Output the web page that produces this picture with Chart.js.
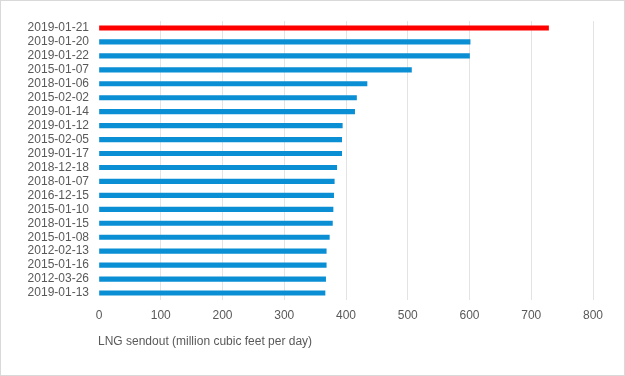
<!DOCTYPE html>
<html>
<head>
<meta charset="utf-8">
<script src="https://cdn.jsdelivr.net/npm/chart.js@4/dist/chart.umd.min.js"></script>
<style>
  html, body { margin: 0; padding: 0; background: #fff; }
  #wrap { width: 625px; height: 376px; box-sizing: border-box; border: 1px solid #d9d9d9; background: #fff; }
  canvas { display: block; }
</style>
</head>
<body>
<div id="wrap"><canvas id="c" width="623" height="374"></canvas></div>
<script>
const categories = ["2019-01-21","2019-01-20","2019-01-22","2015-01-07","2018-01-06","2015-02-02","2019-01-14","2019-01-12","2015-02-05","2019-01-17","2018-12-18","2018-01-07","2016-12-15","2015-01-10","2018-01-15","2015-01-08","2012-02-13","2015-01-16","2012-03-26","2019-01-13"];
const sendout = [728, 601, 600, 506, 434, 417, 414, 394, 393, 393, 385, 381, 380, 379, 378, 373, 368, 368, 367, 366];
const highlightIndex = 0;
const xTicks = [0, 100, 200, 300, 400, 500, 600, 700, 800];
const axisTitle = "LNG sendout (million cubic feet per day)";

const barColors = sendout.map((v, i) => i === highlightIndex ? "#ff0000" : "#0a8fd4");

const titlePlugin = {
  id: "axisTitleLeft",
  afterDraw(chart) {
    const ctx = chart.ctx;
    ctx.save();
    ctx.font = "12px 'Liberation Sans', Arial, sans-serif";
    ctx.fillStyle = "#595959";
    ctx.textAlign = "left";
    ctx.textBaseline = "middle";
    ctx.fillText(axisTitle, chart.chartArea.left - 1, chart.chartArea.bottom + 42);
    ctx.restore();
  }
};

new Chart(document.getElementById("c"), {
  type: "bar",
  data: {
    labels: categories,
    datasets: [{
      data: sendout,
      backgroundColor: barColors,
      borderWidth: 0,
      barThickness: 4.5
    }]
  },
  options: {
    indexAxis: "y",
    responsive: false,
    animation: false,
    layout: { padding: { left: 0, top: 20, right: 31, bottom: 0 } },
    plugins: { legend: { display: false }, tooltip: { enabled: false } },
    scales: {
      x: {
        min: 0, max: 800,
        afterBuildTicks(scale) { scale.ticks = xTicks.map(v => ({ value: v })); },
        afterFit(scale) { scale.height = 75; },
        border: { display: false },
        grid: {
          drawTicks: false,
          color: ctx => (ctx.tick && ctx.tick.value === 0) ? "rgba(0,0,0,0)" : "#e3e3e3",
          lineWidth: 1
        },
        ticks: {
          padding: 8,
          color: "#595959",
          font: { family: "'Liberation Sans', Arial, sans-serif", size: 12 }
        }
      },
      y: {
        afterFit(scale) { scale.width = 98; },
        border: { display: false },
        grid: { display: false, drawTicks: false },
        ticks: {
          padding: 10,
          color: "#595959",
          autoSkip: false,
          font: { family: "'Liberation Sans', Arial, sans-serif", size: 12 }
        }
      }
    }
  },
  plugins: [titlePlugin]
});
</script>
</body>
</html>
